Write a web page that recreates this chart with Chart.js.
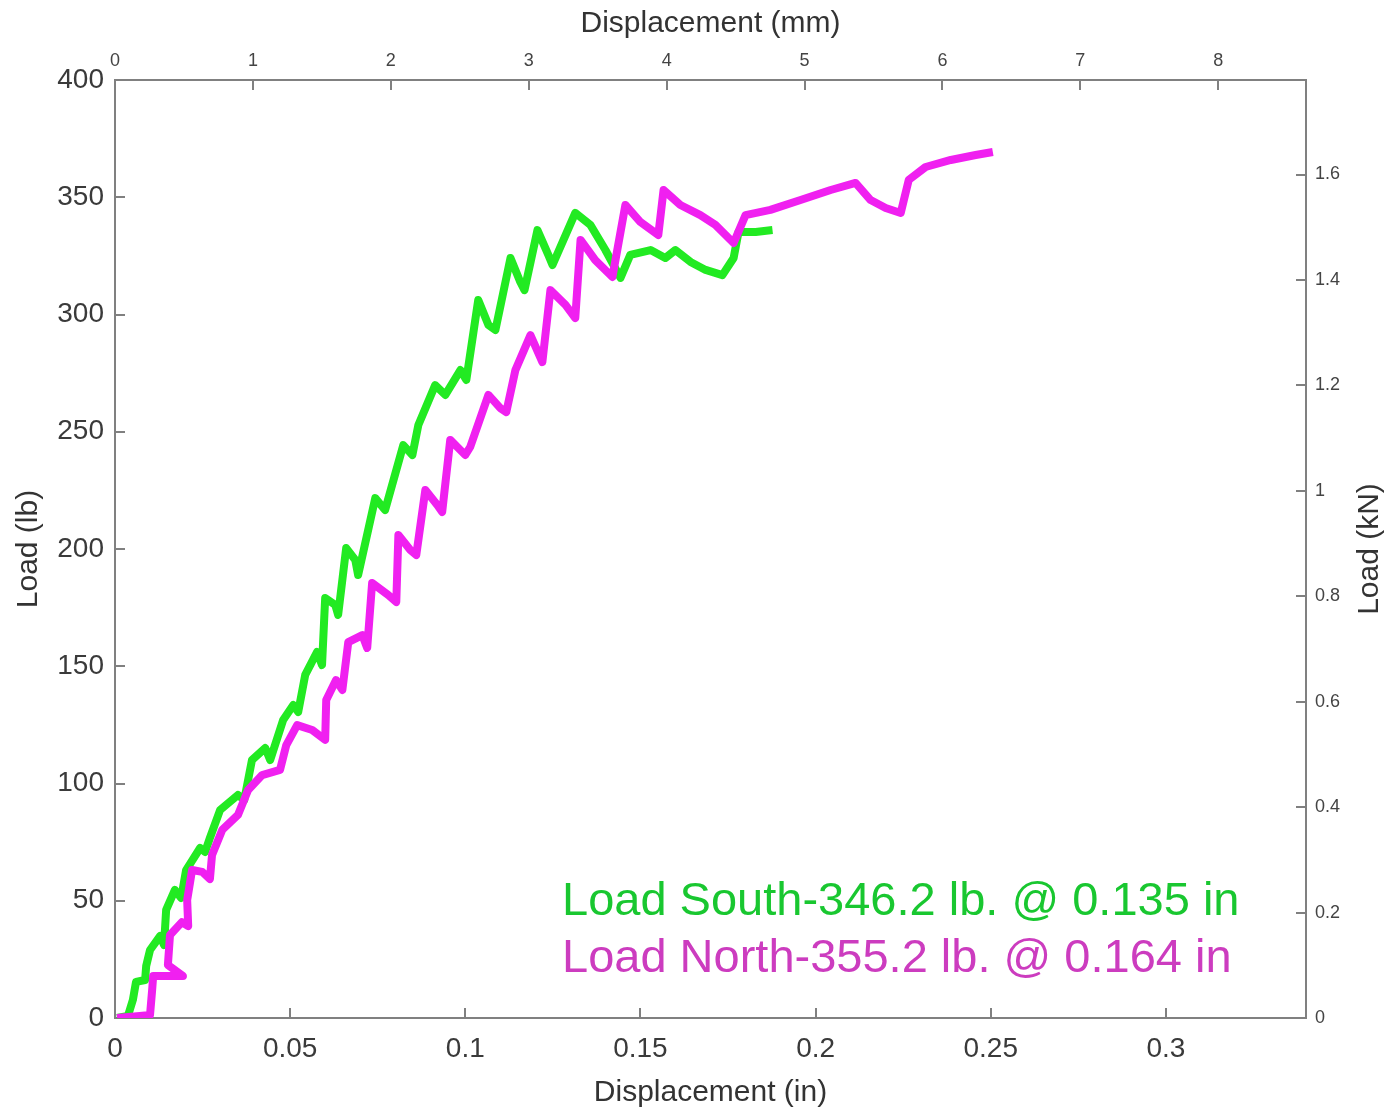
<!DOCTYPE html>
<html>
<head>
<meta charset="utf-8">
<script src="https://cdn.jsdelivr.net/npm/chart.js@4/dist/chart.umd.min.js"></script>
<style>
  html, body { margin: 0; padding: 0; background: #fff; }
  #wrap { width: 1395px; height: 1111px; }
</style>
</head>
<body>
<div id="wrap"><canvas id="chart" width="1395" height="1111"></canvas></div>
<script>
// --- data ---
const southX = [0.0006, 0.0037, 0.0051, 0.0060, 0.0086, 0.0089, 0.0100, 0.0129, 0.0140, 0.0146,
  0.0171, 0.0189, 0.0203, 0.0243, 0.0257, 0.0271, 0.0300, 0.0351, 0.0369, 0.0391,
  0.0429, 0.0443, 0.0480, 0.0509, 0.0523, 0.0543, 0.0577, 0.0591, 0.0600, 0.0629,
  0.0637, 0.0660, 0.0686, 0.0694, 0.0743, 0.0771, 0.0823, 0.0849, 0.0866, 0.0914,
  0.0943, 0.0986, 0.1003, 0.1037, 0.1066, 0.1086, 0.1129, 0.1157, 0.1169, 0.1206,
  0.1237, 0.1249, 0.1314, 0.1357, 0.1400, 0.1443, 0.1471, 0.1529, 0.1571, 0.1600,
  0.1643, 0.1686, 0.1734, 0.1766, 0.1780, 0.1829, 0.1877];
const southLoad = [0, 0.9, 7.7, 15.4, 16.2, 22.2, 29.0, 35.0, 31.1, 46.1,
  54.6, 51.2, 63.1, 72.5, 70.8, 76.8, 88.7, 95.1, 93.0, 110.0,
  115.1, 110.0, 127.1, 133.5, 130.5, 146.3, 156.1, 150.5, 179.1, 176.1,
  171.9, 200.4, 195.3, 188.9, 221.7, 216.6, 244.3, 240.1, 252.9, 269.9,
  265.7, 276.3, 272.1, 306.2, 295.5, 293.4, 324.1, 313.9, 310.4, 336.0,
  325.4, 321.1, 343.3, 338.2, 327.5, 315.6, 325.4, 327.5, 324.1, 327.5,
  322.4, 319.0, 316.8, 324.1, 335.2, 335.2, 336.0];

const northX = [0.0006, 0.0071, 0.0100, 0.0106, 0.0109, 0.0194, 0.0151, 0.0157, 0.0191, 0.0209,
  0.0206, 0.0220, 0.0249, 0.0271, 0.0277, 0.0306, 0.0351, 0.0380, 0.0420, 0.0471,
  0.0489, 0.0520, 0.0563, 0.0600, 0.0603, 0.0631, 0.0649, 0.0666, 0.0706, 0.0720,
  0.0734, 0.0780, 0.0803, 0.0809, 0.0843, 0.0860, 0.0886, 0.0920, 0.0934, 0.0957,
  0.1000, 0.1014, 0.1066, 0.1100, 0.1117, 0.1143, 0.1186, 0.1220, 0.1243, 0.1286,
  0.1314, 0.1329, 0.1371, 0.1420, 0.1457, 0.1500, 0.1551, 0.1566, 0.1614, 0.1671,
  0.1714, 0.1766, 0.1800, 0.1871, 0.1957, 0.2043, 0.2114, 0.2157, 0.2200, 0.2243,
  0.2266, 0.2314, 0.2386, 0.2457, 0.2506];
const northLoad = [0, 0.9, 1.3, 11.9, 17.9, 17.9, 22.6, 35.4, 40.9, 39.2,
  50.3, 63.1, 62.3, 59.3, 69.5, 80.2, 86.6, 97.2, 103.6, 105.8,
  116.4, 124.9, 122.8, 118.6, 135.6, 144.1, 139.9, 160.3, 163.3, 157.8,
  185.5, 180.4, 177.4, 206.0, 199.6, 197.4, 225.2, 218.8, 215.8, 246.5,
  240.1, 243.5, 265.7, 260.1, 258.4, 276.3, 291.2, 279.7, 310.4, 304.1,
  298.5, 331.8, 323.2, 316.0, 346.7, 339.4, 333.9, 353.1, 346.7, 342.4,
  338.2, 330.5, 342.4, 344.6, 348.8, 353.1, 356.1, 348.8, 345.4, 343.3,
  357.4, 362.9, 365.9, 368.0, 369.3];

// tick labels
const inTicks = [0, 0.05, 0.1, 0.15, 0.2, 0.25, 0.3];
const lbTicks = [0, 50, 100, 150, 200, 250, 300, 350, 400];
const mmTicks = [0, 1, 2, 3, 4, 5, 6, 7, 8];
const kNTicks = [0, 0.2, 0.4, 0.6, 0.8, 1, 1.2, 1.4, 1.6];

const notes = [
  { text: 'Load South-346.2 lb. @ 0.135 in', color: '#19c730' },
  { text: 'Load North-355.2 lb. @ 0.164 in', color: '#cc3cbf' }
];

const X_MAX = 0.34, Y_MAX = 400;
const MM_PER_IN = 25.4, KN_PER_LB = 0.00444822;

const FONT = "'Liberation Sans', Arial, sans-serif";
const AXIS_GREY = '#808080';

const toPoints = (xs, ys) => xs.map((x, i) => ({ x: x, y: ys[i] }));

// MATLAB style tick marks that point into the plot box
const insideTicks = {
  id: 'insideTicks',
  beforeDatasetsDraw(chart) {
    const { ctx, chartArea: a, scales } = chart;
    const len = 10;
    ctx.save();
    ctx.strokeStyle = AXIS_GREY;
    ctx.lineWidth = 2;
    ctx.beginPath();
    scales.x.ticks.forEach(t => {
      const p = Math.round(scales.x.getPixelForValue(t.value));
      ctx.moveTo(p, a.bottom); ctx.lineTo(p, a.bottom - len);
    });
    scales.x2.ticks.forEach(t => {
      const p = Math.round(scales.x2.getPixelForValue(t.value));
      ctx.moveTo(p, a.top); ctx.lineTo(p, a.top + len);
    });
    scales.y.ticks.forEach(t => {
      const p = Math.round(scales.y.getPixelForValue(t.value));
      ctx.moveTo(a.left, p); ctx.lineTo(a.left + len, p);
    });
    scales.y2.ticks.forEach(t => {
      const p = Math.round(scales.y2.getPixelForValue(t.value));
      ctx.moveTo(a.right, p); ctx.lineTo(a.right - len, p);
    });
    ctx.stroke();
    ctx.restore();
  }
};

// result lines in the lower right, plus the right-hand axis title (reads bottom to top)
const noteText = {
  id: 'noteText',
  afterDatasetsDraw(chart) {
    const { ctx, chartArea: a } = chart;
    ctx.save();
    ctx.font = '47px ' + FONT;
    ctx.textAlign = 'left';
    ctx.textBaseline = 'alphabetic';
    notes.forEach((n, i) => {
      ctx.fillStyle = n.color;
      ctx.fillText(n.text, a.left + 447, a.top + 835 + i * 57);
    });

    ctx.translate(a.right + 64, (a.top + a.bottom) / 2);
    ctx.rotate(-Math.PI / 2);
    ctx.font = '30px ' + FONT;
    ctx.fillStyle = '#333';
    ctx.textAlign = 'center';
    ctx.textBaseline = 'middle';
    ctx.fillText('Load (kN)', 0, 0);
    ctx.restore();
  }
};

const tickFont = (size) => ({ family: FONT, size: size });
const titleFont = { family: FONT, size: 30 };

new Chart(document.getElementById('chart'), {
  type: 'scatter',
  data: {
    datasets: [
      {
        label: 'Load North',
        data: toPoints(northX, northLoad),
        borderColor: '#f020f0',
        borderWidth: 8,
        showLine: true,
        pointRadius: 0,
        tension: 0,
        borderJoinStyle: 'round',
        order: 0
      },
      {
        label: 'Load South',
        data: toPoints(southX, southLoad),
        borderColor: '#22ea22',
        borderWidth: 8,
        showLine: true,
        pointRadius: 0,
        tension: 0,
        borderJoinStyle: 'round',
        order: 1
      }
    ]
  },
  options: {
    responsive: false,
    animation: false,
    layout: { padding: 0 },
    plugins: { legend: { display: false }, tooltip: { enabled: false } },
    scales: {
      x: {
        type: 'linear', position: 'bottom', min: 0, max: X_MAX,
        afterBuildTicks: s => { s.ticks = inTicks.map(v => ({ value: v })); },
        afterFit: s => { s.height = 93; },
        grid: { display: false },
        border: { display: true, color: AXIS_GREY, width: 2 },
        ticks: { font: tickFont(28), color: '#3a3a3a', padding: 6, maxRotation: 0, callback: v => String(v) },
        title: { display: true, text: 'Displacement (in)', font: titleFont, color: '#333', padding: { bottom: 0 } }
      },
      x2: {
        type: 'linear', position: 'top', min: 0, max: X_MAX * MM_PER_IN,
        afterBuildTicks: s => { s.ticks = mmTicks.map(v => ({ value: v })); },
        afterFit: s => { s.height = 80; },
        grid: { display: false },
        border: { display: true, color: AXIS_GREY, width: 2 },
        ticks: { font: tickFont(18), color: '#444', padding: 0, maxRotation: 0, callback: v => String(v) },
        title: { display: true, text: 'Displacement (mm)', font: titleFont, color: '#333', padding: { top: 6 } }
      },
      y: {
        type: 'linear', position: 'left', min: 0, max: Y_MAX,
        afterBuildTicks: s => { s.ticks = lbTicks.map(v => ({ value: v })); },
        afterFit: s => { s.width = 115; },
        grid: { display: false },
        border: { display: true, color: AXIS_GREY, width: 2 },
        ticks: { font: tickFont(28), color: '#3a3a3a', padding: 3, callback: v => String(v) },
        title: { display: true, text: 'Load (lb)', font: titleFont, color: '#333', padding: { top: 11 } }
      },
      y2: {
        type: 'linear', position: 'right', min: 0, max: Y_MAX * KN_PER_LB,
        afterBuildTicks: s => { s.ticks = kNTicks.map(v => ({ value: v })); },
        afterFit: s => { s.width = 89; },
        grid: { display: false },
        border: { display: true, color: AXIS_GREY, width: 2 },
        ticks: { font: tickFont(18), color: '#444', padding: 1, callback: v => String(v) },
        title: { display: false }
      }
    }
  },
  plugins: [insideTicks, noteText]
});
</script>
</body>
</html>
